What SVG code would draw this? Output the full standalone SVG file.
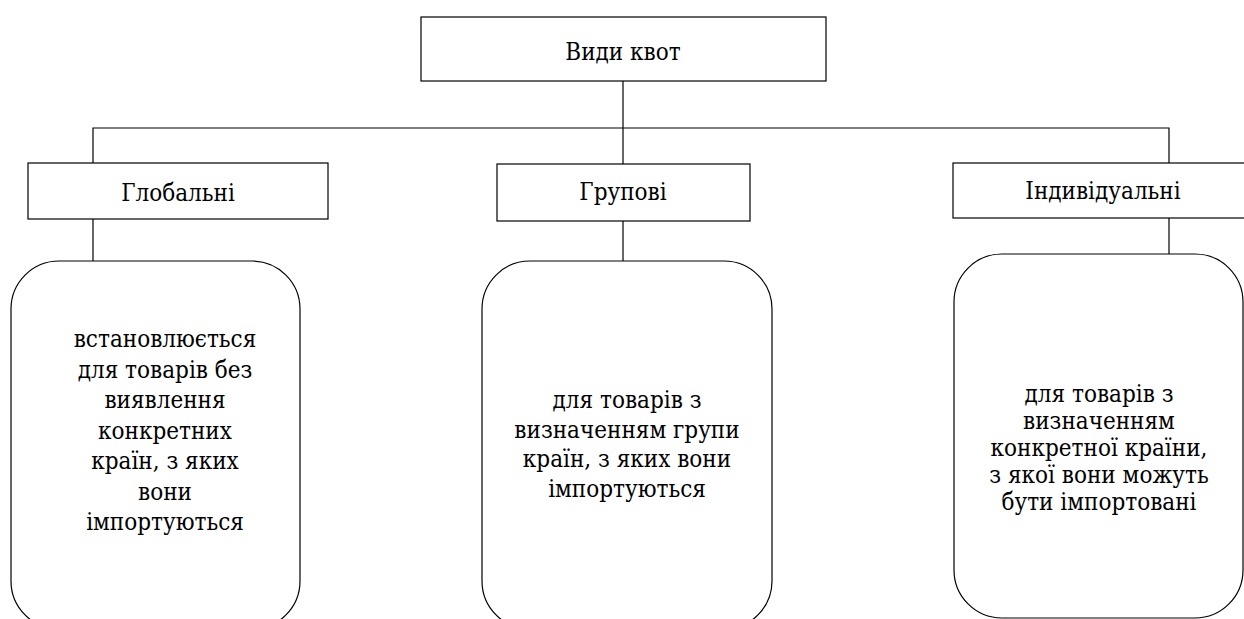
<svg xmlns="http://www.w3.org/2000/svg" width="1244" height="619" viewBox="0 0 1244 619">
<style>
.box{fill:#fff;stroke:#000;stroke-width:1.2}
.con{fill:none;stroke:#000;stroke-width:1.2}
text{font-family:'DejaVu Serif Condensed','DejaVu Serif',serif;font-stretch:condensed;font-size:24px;fill:#000;text-anchor:middle}
</style>
<rect width="1244" height="619" fill="#fff"/>
<g id="connectors">
<line class="con" x1="623" y1="81" x2="623" y2="164"/>
<polyline class="con" points="93,163 93,128 1169,128 1169,163"/>
<line class="con" x1="93" y1="219" x2="93" y2="261"/>
<line class="con" x1="623" y1="221" x2="623" y2="261"/>
<line class="con" x1="1169" y1="218" x2="1169" y2="254"/>
</g>
<g id="root">
<rect class="box" x="421" y="17" width="405" height="64"/>
<text x="623" y="60">Види квот</text>
</g>
<g id="global">
<rect class="box" x="28" y="163" width="300" height="56"/>
<text x="178" y="201">Глобальні</text>
</g>
<g id="group">
<rect class="box" x="497" y="164" width="253" height="57"/>
<text x="623" y="200">Групові</text>
</g>
<g id="individual">
<rect class="box" x="953" y="163" width="300" height="55"/>
<text x="1103" y="199">Індивідуальні</text>
</g>
<g id="global-desc">
<rect class="box" x="11" y="261" width="289" height="368" rx="48" ry="48"/>
<text x="165" y="347">встановлюється</text>
<text x="165" y="377.5">для товарів без</text>
<text x="165" y="408">виявлення</text>
<text x="165" y="438.5">конкретних</text>
<text x="165" y="469">країн, з яких</text>
<text x="165" y="499.5">вони</text>
<text x="165" y="530">імпортуються</text>
</g>
<g id="group-desc">
<rect class="box" x="482" y="261" width="290" height="368" rx="48" ry="48"/>
<text x="627" y="408">для товарів з</text>
<text x="627" y="437.5">визначенням групи</text>
<text x="627" y="467">країн, з яких вони</text>
<text x="627" y="496.5">імпортуються</text>
</g>
<g id="individual-desc">
<rect class="box" x="954" y="254" width="289" height="364" rx="48" ry="48"/>
<text x="1099" y="402">для товарів з</text>
<text x="1099" y="429">визначенням</text>
<text x="1099" y="456">конкретної країни,</text>
<text x="1099" y="483">з якої вони можуть</text>
<text x="1099" y="510">бути імпортовані</text>
</g>
</svg>
